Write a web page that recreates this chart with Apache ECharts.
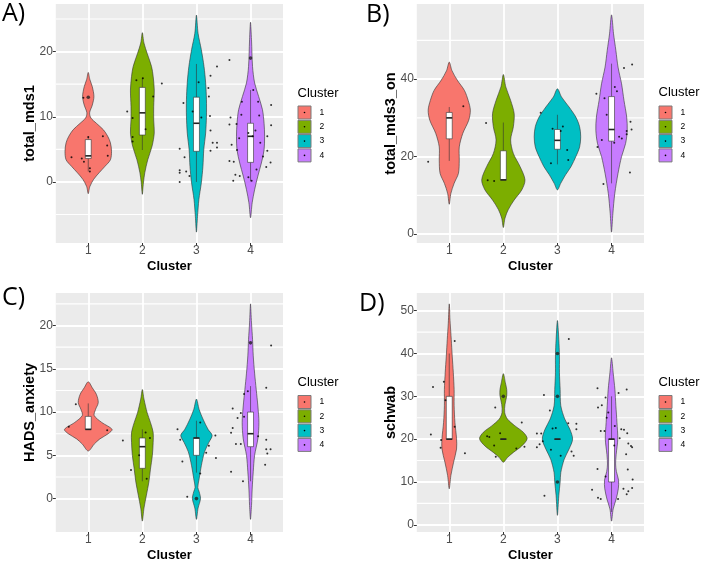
<!DOCTYPE html>
<html>
<head>
<meta charset="utf-8">
<script src="https://cdn.jsdelivr.net/npm/echarts@6/dist/echarts.min.js"></script>
<style>
  html, body { margin: 0; padding: 0; background: #fff; }
  #chart { width: 702px; height: 563px; }
</style>
</head>
<body>
<div id="chart"></div>
<script>
// clusters + ggplot default hues
var clusters = ['1', '2', '3', '4'];
var clusterColors = ['#F8766D', '#7CAE00', '#00BFC4', '#C77CFF'];

// y variable names
var yNames = ['total_mds1', 'total_mds3_on', 'HADS_anxiety', 'schwab'];
var panelTags = ['A)', 'B)', 'C)', 'D)'];

// y ticks (major labels) and minor grid values
var ticksA = [0, 10, 20], minorA = [-5, 5, 15, 25];
var ticksB = [0, 20, 40], minorB = [10, 30, 50];
var ticksC = [0, 5, 10, 15, 20], minorC = [2.5, 7.5, 12.5, 17.5, 22.5];
var ticksD = [0, 10, 20, 30, 40, 50], minorD = [5, 15, 25, 35, 45];

// violin outlines: [value, half width] bottom tip -> top tip, one per cluster
var violinA = [
  [[-1.8,0],[-0.7,0.03],[0.4,0.1],[1.4,0.2],[2.4,0.31],[3.4,0.41],[4.7,0.43],[6.0,0.41],[7.0,0.36],[8.0,0.28],[9.0,0.15],[9.8,0.05],[10.6,0.025],[11.8,0.075],[13.1,0.105],[14.6,0.075],[15.7,0.03],[16.8,0]],
  [[-1.9,0],[-0.15,0.02],[1.4,0.045],[3.4,0.1],[5.5,0.18],[7.5,0.22],[9.5,0.21],[11.6,0.21],[14.1,0.22],[16.2,0.2],[17.7,0.17],[19.7,0.09],[21.3,0.03],[22.9,0]],
  [[-7.7,0],[-5.3,0.02],[-2.7,0.045],[-0.15,0.09],[2.4,0.12],[4.9,0.135],[7.5,0.17],[10.1,0.185],[12.6,0.185],[15.2,0.17],[17.7,0.14],[20.3,0.09],[22.8,0.03],[25.6,0]],
  [[-5.5,0],[-3.2,0.03],[-1.2,0.075],[0.9,0.135],[2.9,0.2],[4.9,0.25],[7.0,0.26],[9.0,0.25],[11.1,0.22],[13.1,0.15],[15.2,0.075],[17.7,0.037],[21.8,0.018],[24.5,0]]
];
var violinB = [
  [[7.7,0],[10.5,0.03],[13.1,0.09],[15.7,0.17],[19.1,0.185],[22.5,0.185],[26.0,0.25],[29.4,0.36],[32.0,0.39],[34.5,0.35],[37.1,0.28],[39.7,0.15],[42.2,0.05],[44.4,0]],
  [[1.7,0],[4.1,0.03],[6.3,0.09],[8.8,0.2],[11.4,0.34],[14.0,0.4],[17.4,0.31],[20.8,0.185],[24.3,0.135],[27.7,0.185],[31.1,0.2],[34.5,0.135],[38.0,0.045],[41.2,0]],
  [[11.4,0],[13.1,0.06],[15.3,0.15],[17.4,0.25],[20.0,0.34],[22.5,0.41],[25.1,0.43],[27.7,0.41],[30.2,0.34],[32.8,0.215],[35.4,0.075],[37.5,0]],
  [[0.5,0],[5.4,0.025],[10.5,0.06],[15.7,0.12],[20.0,0.185],[23.4,0.26],[26.8,0.29],[30.2,0.28],[34.5,0.23],[38.8,0.185],[43.1,0.12],[47.4,0.08],[51.7,0.037],[56.6,0]]
];
var violinC = [
  [[5.5,0],[6.3,0.11],[6.9,0.215],[7.5,0.37],[8.0,0.44],[8.8,0.25],[9.6,0.11],[10.3,0.135],[11.1,0.185],[12.05,0.15],[12.8,0.075],[13.5,0]],
  [[-2.6,0],[-1.1,0.03],[0.4,0.075],[1.9,0.12],[3.4,0.15],[5.0,0.185],[6.5,0.2],[7.65,0.2],[8.8,0.15],[9.9,0.09],[11.5,0.03],[12.6,0]],
  [[-2.4,0],[-1.1,0.03],[0,0.075],[0.8,0.05],[1.3,0.025],[2.3,0.05],[3.8,0.09],[5.4,0.15],[6.5,0.23],[7.3,0.29],[8.0,0.215],[9.2,0.12],[10.3,0.05],[11.5,0]],
  [[-2.4,0],[-0.8,0.018],[1.1,0.03],[3.1,0.05],[5.0,0.075],[6.9,0.135],[8.8,0.155],[10.7,0.135],[12.6,0.105],[14.5,0.075],[16.5,0.05],[18.4,0.037],[20.3,0.018],[22.5,0]]
];
var violinD = [
  [[8.4,0],[11.5,0.03],[14.6,0.08],[17.7,0.135],[20.1,0.135],[23.9,0.105],[27.8,0.09],[31.6,0.09],[35.5,0.075],[39.4,0.055],[43.3,0.037],[47.1,0.018],[51.6,0]],
  [[14.6,0],[15.7,0.075],[16.9,0.185],[18.4,0.34],[20.1,0.44],[21.6,0.37],[23.1,0.215],[24.7,0.075],[26.2,0.025],[28.1,0.03],[30.1,0.062],[31.6,0.062],[33.2,0.037],[35.3,0]],
  [[2.2,0],[6.8,0.025],[10.0,0.05],[12.2,0.062],[15.3,0.125],[17.7,0.215],[20.0,0.28],[22.3,0.23],[24.7,0.135],[27.8,0.062],[31.6,0.05],[35.5,0.037],[39.4,0.037],[43.3,0.025],[47.7,0]],
  [[0.85,0],[3.7,0.03],[6.0,0.085],[8.4,0.125],[10.4,0.13],[12.4,0.09],[14.2,0.075],[16.4,0.085],[20.0,0.115],[23.9,0.1],[27.8,0.08],[31.6,0.062],[35.5,0.03],[39.0,0]]
];

// boxplots: [lower whisker, q1, median, q3, upper whisker]
var boxA = [[1.6,3.6,4.0,6.5,6.9],[4.9,7.2,10.6,14.5,16.0],[0,4.7,9.0,13.0,18.1],[0.1,3.0,7.0,9.0,14.1]];
var boxB = [[18.9,24.6,30.0,31.4,32.8],[14.0,14.0,14.0,21.5,28.8],[18.0,21.9,24.2,27.0,30.8],[13.1,24.0,27.0,35.5,44.0]];
var boxC = [[8.0,8.0,8.0,9.5,11.0],[2.0,3.5,6.0,7.0,8.0],[3.0,5.0,7.0,7.0,9.0],[2.0,6.0,7.5,10.0,13.0]];
var boxD = [[20,20,20,30,40],[20,20,20,20,20],[20,20,20,20,20],[3,10,20,20,30]];

// boxplot outliers per cluster
var outlierA = [[13], [], [], [19]];
var outlierB = [[], [], [], []];
var outlierC = [[], [], [0], [18]];
var outlierD = [[], [30], [10, 30, 40], []];

// jittered points: [x offset from cluster, value]
var jitterA = [
  [[-0.09,12.9],[0,6.9],[0.27,7.0],[0.35,5.6],[0.36,4.0],[-0.31,3.8],[-0.12,3.6],[-0.08,3.1],[0.03,2.1],[0.03,1.6]],
  [[-0.11,15.6],[0.36,15.1],[0.2,13.1],[-0.28,10.8],[-0.18,9.8],[0.06,8.1],[-0.18,6.9],[-0.18,6.2],[0.01,15.9]],
  [[0.38,17.7],[0.26,16.3],[0.04,15.3],[0.22,14.4],[0.23,13.1],[-0.24,12.1],[-0.07,10.8],[0.25,10.1],[0.09,9.9],[0.26,7.9],[0.38,6.0],[0.3,6.0],[0.38,5.3],[0.26,4.8],[-0.31,5.1],[-0.22,3.8],[-0.31,1.8],[-0.31,1.4],[-0.19,1.6],[-0.13,0.9],[-0.31,0]],
  [[-0.39,18.7],[0.05,14.1],[-0.16,12.3],[0.14,12.3],[0.38,11.8],[-0.37,9.9],[-0.17,10.3],[0.16,10.2],[-0.39,8.8],[-0.26,8.9],[0.38,8.7],[-0.04,7.5],[0.09,7.9],[0.04,7.0],[0.31,7.0],[-0.21,6.7],[0.18,6.0],[-0.35,5.7],[-0.25,4.9],[0.31,4.8],[0.23,3.9],[-0.39,3.2],[-0.31,3.1],[0.37,3.0],[0.29,2.3],[0.11,1.9],[-0.28,1.1],[-0.2,0.9],[-0.04,0.7],[-0.32,0.2],[0.02,0.2]]
];
var jitterB = [
  [[0.26,33.0],[-0.39,18.7]],
  [[-0.32,28.7],[-0.29,13.9],[-0.17,13.7]],
  [[-0.31,31.3],[0.1,27.8],[-0.09,27.2],[0.06,26.6],[0.18,21.7],[-0.12,18.3],[0.2,19.1]],
  [[0.23,42.9],[0.38,43.8],[0.06,38.0],[0.1,36.9],[-0.28,36.2],[-0.13,35.1],[-0.09,30.8],[0.35,29.0],[0.37,27.0],[0.28,26.6],[0.28,25.8],[0.14,25.1],[0.19,24.7],[-0.18,24.3],[0.05,23.6],[-0.26,22.5],[0.34,15.9],[-0.15,12.9]]
];
var jitterC = [
  [[-0.23,10.9],[-0.36,8.3],[0.35,7.9]],
  [[-0.36,6.7],[0.06,7.65],[0.14,7.0],[-0.06,5.0],[-0.21,3.3],[0.08,2.3]],
  [[-0.35,8.0],[0.07,8.8],[-0.3,6.8],[0.35,7.3],[0.23,6.1],[0.18,5.3],[0.36,4.7],[-0.26,4.3],[0.07,2.9],[-0.17,0.2]],
  [[0.38,17.7],[-0.05,12.4],[-0.12,12.1],[0.29,12.8],[-0.33,10.4],[-0.18,9.9],[-0.24,9.3],[-0.12,9.45],[-0.33,8.15],[-0.36,7.6],[-0.27,6.3],[-0.18,6.3],[0.14,7.2],[0.29,6.8],[0.29,5.7],[0.37,5.7],[0.31,5.2],[0.27,3.9],[-0.36,3.1],[-0.14,2.0]]
];
var jitterD = [
  [[0.1,42.9],[-0.3,32.2],[-0.1,33.4],[-0.07,29.1],[-0.34,21.1],[-0.15,19.8],[-0.16,18.0],[0.1,22.9],[0.29,16.7]],
  [[-0.15,27.4],[0.34,23.9],[-0.06,21.4],[-0.26,20.5],[-0.17,18.5],[-0.14,15.9],[0.39,18.2],[0.24,17.8],[-0.3,20.7]],
  [[0.21,43.4],[-0.25,30.3],[-0.14,26.7],[-0.09,22.5],[-0.03,22.6],[0.2,23.7],[0.35,23.6],[0.35,22.3],[-0.38,21.3],[-0.3,21.3],[-0.38,18.1],[-0.33,18.8],[-0.27,19.5],[-0.12,17.5],[0.26,17.1],[0.3,16.1],[0.06,16.1],[-0.24,6.8]],
  [[-0.26,31.9],[0.28,31.6],[0.13,30.8],[-0.11,29.7],[-0.18,27.9],[-0.25,27.4],[-0.06,26.2],[-0.09,25.0],[-0.2,21.9],[0.06,23.1],[0.18,22.3],[0.23,22.2],[0.29,21.4],[-0.13,21.9],[0.15,20.2],[0.05,18.5],[0.31,19.0],[0.36,18.4],[0.38,18.1],[-0.26,13.0],[-0.11,11.3],[0.3,12.9],[0.39,10.6],[0.27,16.5],[-0.36,8.2],[-0.25,6.3],[-0.2,6.0],[0.22,8.4],[0.38,8.6],[0.31,7.8],[0.28,7.1],[0.12,6.0]]
];

// panel layout (px)
var panels = [
  {grid: {left: 55.8, top: 4, width: 227.2, height: 239}, yMin: -9.37, yMax: 27.3, ticks: ticksA, minor: minorA,
   violin: violinA, box: boxA, out: outlierA, jit: jitterA, tag: [2, 14], leg: [297.5, 93, 105.5]},
  {grid: {left: 416.8, top: 4, width: 227.2, height: 239}, yMin: -2.3, yMax: 59.4, ticks: ticksB, minor: minorB,
   violin: violinB, box: boxB, out: outlierB, jit: jitterB, tag: [366, 15], leg: [658.5, 92, 105.5]},
  {grid: {left: 55.8, top: 293, width: 227.2, height: 240}, yMin: -3.86, yMax: 23.76, ticks: ticksC, minor: minorC,
   violin: violinC, box: boxC, out: outlierC, jit: jitterC, tag: [2, 298], leg: [297.5, 382.5, 395]},
  {grid: {left: 416.8, top: 293, width: 227.2, height: 240}, yMin: -1.69, yMax: 54.14, ticks: ticksD, minor: minorD,
   violin: violinD, box: boxD, out: outlierD, jit: jitterD, tag: [359, 304], leg: [658.5, 382, 395]}
];

var xTicks = [1, 2, 3, 4];
var xMin = 0.4, xMax = 4.6;
var grids = [], xAxes = [], yAxes = [], series = [], graphics = [];

panels.forEach(function (p, gi) {
  grids.push(Object.assign({show: true, backgroundColor: '#EBEBEB', borderWidth: 0}, p.grid));

  xAxes.push({
    type: 'value', gridIndex: gi, min: xMin, max: xMax,
    name: 'Cluster', nameLocation: 'middle', nameGap: 17, nameMoveOverlap: false,
    nameTextStyle: {fontFamily: 'Liberation Sans', fontWeight: 'bold', fontSize: 13, color: '#000'},
    axisLine: {show: false, onZero: false},
    axisTick: {show: true, customValues: xTicks, length: 3, lineStyle: {color: '#333', width: 1}},
    axisLabel: {customValues: xTicks, color: '#4D4D4D', fontSize: 12, margin: 2, fontFamily: 'Liberation Sans',
      formatter: function (v) { return clusters[v - 1]; }},
    splitLine: {show: true, lineStyle: {color: '#FFFFFF', width: 1.8}}
  });

  yAxes.push({
    type: 'value', gridIndex: gi, min: p.yMin, max: p.yMax,
    name: yNames[gi], nameLocation: 'middle', nameGap: 18, nameMoveOverlap: false,
    nameTextStyle: {fontFamily: 'Liberation Sans', fontWeight: 'bold', fontSize: 14.5, color: '#000'},
    axisLine: {show: false, onZero: false},
    axisTick: {show: true, customValues: p.ticks, length: 3, lineStyle: {color: '#333', width: 1}},
    axisLabel: {customValues: p.ticks, color: '#4D4D4D', fontSize: 12, margin: 3, fontFamily: 'Liberation Sans'},
    splitLine: {show: true, lineStyle: {color: '#FFFFFF', width: 1.8}}
  });

  // minor horizontal grid lines
  series.push({
    type: 'custom', xAxisIndex: gi, yAxisIndex: gi, z: 1, silent: true,
    data: p.minor.map(function (v) { return [xMin, v, xMax]; }),
    renderItem: function (params, api) {
      var a = api.coord([api.value(0), api.value(1)]);
      var b = api.coord([api.value(2), api.value(1)]);
      return {type: 'line', shape: {x1: a[0], y1: a[1], x2: b[0], y2: b[1]},
        style: {stroke: '#FFFFFF', lineWidth: 1.1}};
    }
  });

  // violins
  series.push({
    type: 'custom', xAxisIndex: gi, yAxisIndex: gi, z: 2, silent: true,
    data: p.violin.map(function (v, i) { return [i + 1]; }),
    renderItem: function (params, api) {
      var c = params.dataIndex + 1;
      var prof = p.violin[params.dataIndex];
      var pts = prof.map(function (d) { return api.coord([c + d[1], d[0]]); });
      for (var k = prof.length - 2; k >= 1; k--) {
        pts.push(api.coord([c - prof[k][1], prof[k][0]]));
      }
      return {type: 'polygon', shape: {points: pts, smooth: 0.3},
        style: {fill: clusterColors[params.dataIndex], stroke: '#333', lineWidth: 0.6}};
    }
  });

  // boxplots
  series.push({
    type: 'custom', xAxisIndex: gi, yAxisIndex: gi, z: 3, silent: true,
    data: p.box.map(function (b, i) { return [i + 1].concat(b); }),
    renderItem: function (params, api) {
      var c = api.value(0), hw = 0.055;
      var top = api.coord([c - hw, api.value(4)]);
      var bot = api.coord([c + hw, api.value(2)]);
      var hi = api.coord([c, api.value(5)]);
      var lo = api.coord([c, api.value(1)]);
      var md = api.coord([c, api.value(3)]);
      var st = {stroke: '#333', lineWidth: 0.6};
      return {type: 'group', children: [
        {type: 'line', shape: {x1: hi[0], y1: hi[1], x2: hi[0], y2: top[1]}, style: st},
        {type: 'line', shape: {x1: lo[0], y1: bot[1], x2: lo[0], y2: lo[1]}, style: st},
        {type: 'rect', shape: {x: top[0], y: top[1], width: bot[0] - top[0], height: bot[1] - top[1]},
          style: {fill: '#fff', stroke: '#333', lineWidth: 0.6}},
        {type: 'line', shape: {x1: top[0], y1: md[1], x2: bot[0], y2: md[1]}, style: {stroke: '#222', lineWidth: 1.6}}
      ]};
    }
  });

  // outliers
  var outData = [];
  p.out.forEach(function (vals, i) { vals.forEach(function (v) { outData.push([i + 1, v]); }); });
  if (outData.length) {
    series.push({
      type: 'scatter', xAxisIndex: gi, yAxisIndex: gi, z: 4, silent: true,
      symbolSize: 3.6, itemStyle: {color: '#222'}, data: outData
    });
  }

  // jittered points
  var jData = [];
  p.jit.forEach(function (pts, i) { pts.forEach(function (d) { jData.push([i + 1 + d[0], d[1]]); }); });
  series.push({
    type: 'scatter', xAxisIndex: gi, yAxisIndex: gi, z: 5, silent: true,
    symbolSize: 2, itemStyle: {color: '#000'}, data: jData
  });

  // panel tag
  graphics.push({type: 'text', x: p.tag[0], y: p.tag[1],
    style: {text: panelTags[gi], font: '25px "Open Sans"', fill: '#000', textVerticalAlign: 'middle'}});

  // legend
  var lx = p.leg[0];
  graphics.push({type: 'text', x: lx, y: p.leg[1],
    style: {text: 'Cluster', font: '13px "Liberation Sans"', fill: '#000', textVerticalAlign: 'middle'}});
  clusters.forEach(function (name, i) {
    var ty = p.leg[2] + i * 14.3;
    graphics.push({type: 'rect', shape: {x: lx + 0.5, y: ty + 0.5, width: 13, height: 13},
      style: {fill: clusterColors[i], stroke: '#7a7a7a', lineWidth: 1}});
    graphics.push({type: 'circle', shape: {cx: lx + 7, cy: ty + 7, r: 0.8}, style: {fill: '#000'}});
    graphics.push({type: 'text', x: lx + 22, y: ty + 7,
      style: {text: name, font: '8.5px "Liberation Sans"', fill: '#000', textVerticalAlign: 'middle'}});
  });
});

var chart = echarts.init(document.getElementById('chart'));
chart.setOption({
  animation: false,
  backgroundColor: '#fff',
  grid: grids,
  xAxis: xAxes,
  yAxis: yAxes,
  series: series,
  graphic: graphics
});
</script>
</body>
</html>
